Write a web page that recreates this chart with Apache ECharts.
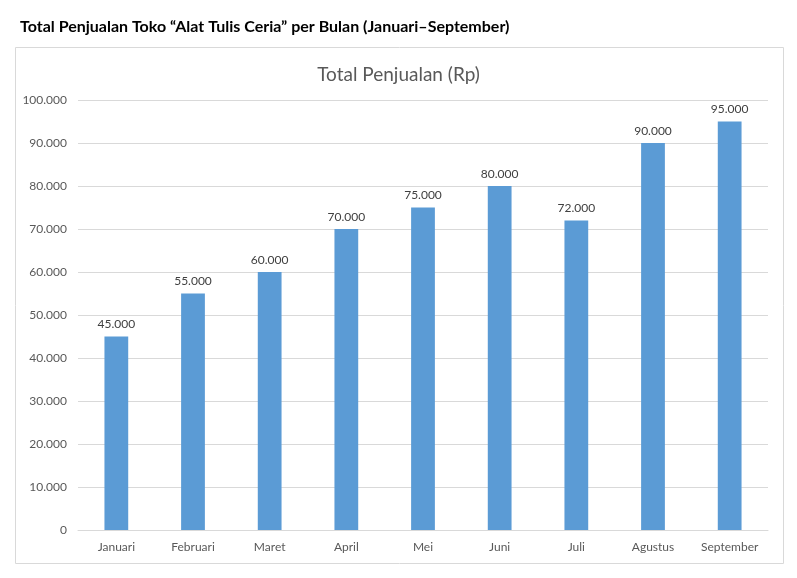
<!DOCTYPE html>
<html>
<head>
<meta charset="utf-8">
<script src="https://cdn.jsdelivr.net/npm/echarts@6/dist/echarts.min.js"></script>
<style>
  html, body { margin: 0; padding: 0; background: #fff; }
  #chart { width: 797px; height: 578px; }
</style>
</head>
<body>
<div id="chart"></div>
<script>
const months = ['Januari', 'Februari', 'Maret', 'April', 'Mei', 'Juni', 'Juli', 'Agustus', 'September'];
const sales = [45000, 55000, 60000, 70000, 75000, 80000, 72000, 90000, 95000];

const fmt = (v) => String(v).replace(/\B(?=(\d{3})+(?!\d))/g, '.');
const font = 'Lato, Calibri, sans-serif';

const myChart = echarts.init(document.getElementById('chart'));

const option = {
  animation: false,
  textStyle: { fontFamily: font },
  title: [
    {
      text: 'Total Penjualan Toko “Alat Tulis Ceria” per Bulan (Januari–September)',
      left: 15,
      top: 14,
      textStyle: { fontFamily: font, fontSize: 16, fontWeight: 'bold', color: '#000' },
    },
    {
      text: 'Total Penjualan (Rp)',
      left: 'center',
      top: 60,
      textStyle: { fontFamily: font, fontSize: 19, fontWeight: 'normal', color: '#595959' },
    },
  ],
  graphic: [
    {
      type: 'rect',
      shape: { x: 15.5, y: 47.5, width: 768, height: 516 },
      style: { fill: 'none', stroke: '#d9d9d9', lineWidth: 1 },
      silent: true,
    },
  ],
  grid: { left: 78, right: 29, top: 100, bottom: 48 },
  xAxis: {
    type: 'category',
    data: months,
    axisLine: { lineStyle: { color: '#d9d9d9' } },
    axisTick: { show: false },
    axisLabel: { color: '#595959', fontSize: 12, margin: 11 },
  },
  yAxis: {
    type: 'value',
    min: 0,
    max: 100000,
    interval: 10000,
    axisLine: { show: false },
    axisTick: { show: false },
    splitLine: { lineStyle: { color: '#d9d9d9' } },
    axisLabel: { color: '#595959', fontSize: 12, margin: 11, formatter: fmt },
  },
  series: [
    {
      type: 'bar',
      data: sales,
      barWidth: '31%',
      itemStyle: { color: '#5b9bd5' },
      label: {
        show: true,
        position: 'top',
        distance: 6,
        color: '#404040',
        fontSize: 12,
        formatter: (p) => fmt(p.value),
      },
    },
  ],
};

myChart.setOption(option);
</script>
</body>
</html>
